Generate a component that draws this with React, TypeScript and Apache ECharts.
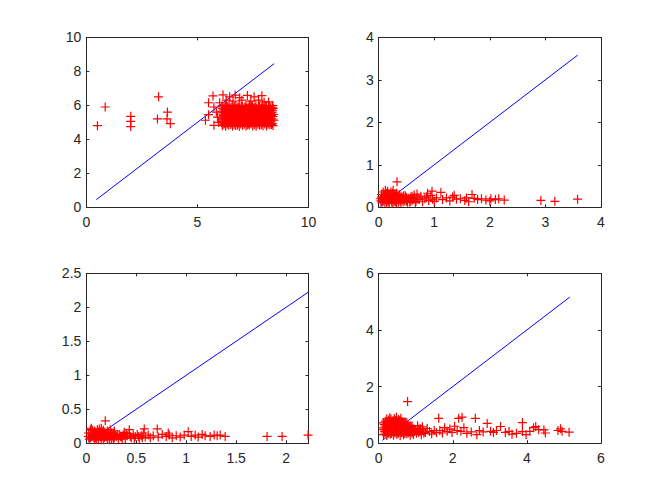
import React, { useEffect, useRef } from "react";
import * as echarts from "echarts";

// ---------- data ----------
const S1_POINTS: number[][] = [
  // isolated
  [0.5, 4.8], [0.85, 5.9], [2.0, 5.35], [2.0, 5.05], [2.0, 4.75], [3.25, 6.5], [3.2, 5.2], [3.65, 5.6], [3.63, 5.2], [3.78, 4.92],
  // left of cluster
  [5.5, 6.15], [5.74, 5.9], [5.5, 5.45], [5.36, 5.12], [5.74, 4.82], [5.9, 5.3], [5.85, 5.6], [5.95, 5.0],
  // upper sparse layer
  [5.7, 6.55], [6.15, 6.62], [6.45, 6.5], [6.7, 6.6], [6.9, 6.45], [7.25, 6.58], [7.55, 6.5], [7.9, 6.57], [8.0, 6.2],
  [6.3, 6.3], [6.6, 6.25], [7.0, 6.3], [7.4, 6.25], [7.75, 6.3], [8.2, 6.2], [6.0, 6.15],
  // dense cluster
  [6.12, 4.8], [6.27, 4.77], [6.41, 4.83], [6.58, 4.79], [6.72, 4.81], [6.88, 4.76], [7.03, 4.82], [7.19, 4.78], [7.33, 4.84], [7.49, 4.79], [7.64, 4.77], [7.8, 4.83], [7.95, 4.8], [8.11, 4.78], [8.26, 4.85], [8.4, 4.81],
  [6.08, 4.98], [6.22, 4.95], [6.37, 5.0], [6.53, 4.96], [6.68, 4.99], [6.83, 4.94], [6.99, 5.01], [7.14, 4.97], [7.29, 4.93], [7.45, 5.0], [7.6, 4.96], [7.75, 4.99], [7.91, 4.95], [8.06, 5.02], [8.21, 4.97], [8.37, 4.94],
  [6.15, 5.14], [6.3, 5.17], [6.46, 5.12], [6.61, 5.15], [6.76, 5.18], [6.92, 5.13], [7.07, 5.16], [7.22, 5.11], [7.38, 5.17], [7.53, 5.14], [7.68, 5.12], [7.84, 5.18], [7.99, 5.15], [8.14, 5.11], [8.3, 5.16], [8.44, 5.13],
  [6.1, 5.31], [6.25, 5.34], [6.4, 5.29], [6.55, 5.33], [6.71, 5.3], [6.86, 5.35], [7.01, 5.28], [7.17, 5.32], [7.32, 5.35], [7.47, 5.3], [7.63, 5.33], [7.78, 5.29], [7.93, 5.34], [8.09, 5.31], [8.24, 5.28], [8.4, 5.33],
  [6.14, 5.48], [6.29, 5.45], [6.44, 5.5], [6.6, 5.47], [6.75, 5.44], [6.9, 5.51], [7.05, 5.46], [7.21, 5.49], [7.36, 5.45], [7.51, 5.5], [7.66, 5.47], [7.82, 5.44], [7.97, 5.49], [8.12, 5.46], [8.28, 5.51], [8.43, 5.47],
  [6.09, 5.65], [6.24, 5.68], [6.39, 5.62], [6.54, 5.66], [6.7, 5.69], [6.85, 5.63], [7.0, 5.67], [7.16, 5.64], [7.31, 5.68], [7.46, 5.62], [7.62, 5.66], [7.77, 5.69], [7.92, 5.63], [8.08, 5.67], [8.23, 5.64], [8.38, 5.68],
  [6.13, 5.82], [6.28, 5.79], [6.43, 5.84], [6.59, 5.81], [6.74, 5.78], [6.89, 5.85], [7.04, 5.8], [7.2, 5.83], [7.35, 5.79], [7.5, 5.84], [7.65, 5.81], [7.81, 5.78], [7.96, 5.83], [8.11, 5.8], [8.27, 5.85], [8.41, 5.82],
  [6.11, 5.98], [6.26, 6.01], [6.42, 5.96], [6.57, 6.0], [6.73, 5.97], [6.87, 6.02], [7.02, 5.95], [7.18, 5.99], [7.34, 6.03], [7.48, 5.97], [7.63, 6.0], [7.79, 5.96], [7.94, 6.01], [8.1, 5.98], [8.25, 5.95], [8.39, 5.99],
];
const S1_EXTRA: number[][] = [
  [6.19, 4.88], [6.34, 4.9], [6.5, 4.87], [6.65, 4.89], [6.8, 4.86], [6.95, 4.9], [7.11, 4.88], [7.26, 4.86], [7.41, 4.91], [7.56, 4.87], [7.72, 4.89], [7.87, 4.86], [8.03, 4.9], [8.18, 4.88], [8.33, 4.87],
  [6.16, 5.06], [6.31, 5.04], [6.47, 5.08], [6.62, 5.05], [6.78, 5.07], [6.93, 5.03], [7.08, 5.06], [7.24, 5.08], [7.39, 5.04], [7.54, 5.07], [7.7, 5.05], [7.85, 5.08], [8.0, 5.04], [8.16, 5.06], [8.31, 5.07],
  [6.19, 5.22], [6.35, 5.24], [6.5, 5.21], [6.66, 5.23], [6.81, 5.2], [6.96, 5.25], [7.12, 5.22], [7.27, 5.2], [7.42, 5.24], [7.57, 5.21], [7.73, 5.23], [7.88, 5.2], [8.04, 5.25], [8.19, 5.22], [8.35, 5.21],
  [6.17, 5.4], [6.33, 5.38], [6.48, 5.41], [6.63, 5.39], [6.79, 5.42], [6.94, 5.37], [7.09, 5.4], [7.25, 5.42], [7.4, 5.38], [7.55, 5.41], [7.71, 5.39], [7.86, 5.42], [8.01, 5.37], [8.17, 5.4], [8.33, 5.39],
  [6.2, 5.57], [6.35, 5.55], [6.51, 5.59], [6.66, 5.56], [6.82, 5.58], [6.97, 5.54], [7.12, 5.57], [7.28, 5.59], [7.43, 5.55], [7.58, 5.58], [7.74, 5.56], [7.89, 5.59], [8.04, 5.55], [8.2, 5.57], [8.35, 5.58],
  [6.18, 5.74], [6.33, 5.72], [6.49, 5.75], [6.64, 5.73], [6.8, 5.76], [6.95, 5.71], [7.1, 5.74], [7.26, 5.76], [7.41, 5.72], [7.56, 5.75], [7.72, 5.73], [7.87, 5.76], [8.02, 5.71], [8.18, 5.74], [8.34, 5.73],
  [6.2, 5.9], [6.36, 5.92], [6.51, 5.89], [6.67, 5.91], [6.82, 5.88], [6.97, 5.93], [7.13, 5.9], [7.28, 5.88], [7.43, 5.92], [7.58, 5.89], [7.74, 5.91], [7.89, 5.88], [8.05, 5.93], [8.2, 5.9], [8.36, 5.89],
];

const S2_POINTS: number[][] = [
  [0.04, 0.15], [0.05, 0.24], [0.08, 0.19], [0.09, 0.3], [0.11, 0.12], [0.12, 0.22], [0.14, 0.33], [0.15, 0.17], [0.17, 0.27], [0.19, 0.11],
  [0.2, 0.21], [0.22, 0.36], [0.23, 0.15], [0.25, 0.26], [0.27, 0.19], [0.28, 0.31], [0.3, 0.13], [0.31, 0.23], [0.33, 0.17], [0.35, 0.28],
  [0.36, 0.12], [0.38, 0.21], [0.4, 0.16], [0.42, 0.25], [0.44, 0.13], [0.46, 0.2], [0.06, 0.11], [0.1, 0.27], [0.16, 0.38], [0.21, 0.29],
  [0.26, 0.12], [0.32, 0.33], [0.13, 0.2], [0.18, 0.16], [0.24, 0.22], [0.29, 0.25], [0.07, 0.2], [0.34, 0.2],
  [0.48, 0.27], [0.5, 0.15], [0.53, 0.21], [0.56, 0.12], [0.58, 0.24], [0.61, 0.17], [0.64, 0.29], [0.67, 0.14], [0.7, 0.22], [0.73, 0.18],
  [0.76, 0.26], [0.79, 0.13], [0.83, 0.2], [0.86, 0.24], [0.9, 0.16], [0.94, 0.28], [0.97, 0.19], [1.0, 0.14], [1.04, 0.22], [0.69, 0.31],
  [0.88, 0.33], [0.96, 0.38],
  [1.12, 0.35], [1.15, 0.18], [1.22, 0.22], [1.28, 0.15], [1.33, 0.24], [1.4, 0.19], [1.47, 0.2], [1.55, 0.16], [1.62, 0.13], [1.68, 0.3],
  [1.72, 0.21], [1.78, 0.18], [1.85, 0.2], [1.93, 0.17], [2.02, 0.2], [2.1, 0.18], [2.16, 0.2], [2.26, 0.17], [1.58, 0.22], [1.36, 0.28], [2.0, 0.15],
  [2.92, 0.16], [3.17, 0.14], [3.58, 0.19], [0.33, 0.6],
];
const S2_EXTRA: number[][] = [
  [0.03, 0.2], [0.05, 0.3], [0.08, 0.14], [0.1, 0.22], [0.12, 0.28], [0.14, 0.1], [0.15, 0.24], [0.17, 0.13], [0.19, 0.31], [0.2, 0.18],
  [0.22, 0.25], [0.24, 0.1], [0.25, 0.33], [0.27, 0.22], [0.29, 0.14], [0.3, 0.28], [0.32, 0.1], [0.34, 0.24], [0.36, 0.17], [0.38, 0.3],
  [0.4, 0.11], [0.41, 0.22], [0.43, 0.18], [0.45, 0.27], [0.47, 0.15], [0.5, 0.23], [0.52, 0.12], [0.55, 0.2], [0.58, 0.14], [0.6, 0.26],
  [0.63, 0.2], [0.66, 0.11], [0.12, 0.4], [0.26, 0.4], [0.08, 0.36],
];

const S3_POINTS: number[][] = [
  [0.02, 0.1], [0.03, 0.06], [0.04, 0.15], [0.05, 0.09], [0.06, 0.19], [0.07, 0.12], [0.08, 0.05], [0.09, 0.16], [0.1, 0.1], [0.11, 0.2],
  [0.12, 0.07], [0.13, 0.13], [0.14, 0.17], [0.15, 0.05], [0.16, 0.11], [0.17, 0.19], [0.18, 0.08], [0.19, 0.14], [0.2, 0.11], [0.21, 0.06],
  [0.22, 0.16], [0.23, 0.09], [0.24, 0.13], [0.25, 0.07], [0.26, 0.11], [0.27, 0.15], [0.28, 0.08], [0.29, 0.12], [0.3, 0.1], [0.32, 0.06],
  [0.33, 0.13], [0.04, 0.2], [0.09, 0.08], [0.13, 0.21], [0.18, 0.15], [0.07, 0.09],
  [0.35, 0.09], [0.37, 0.12], [0.39, 0.07], [0.41, 0.11], [0.43, 0.14], [0.45, 0.08], [0.47, 0.12], [0.49, 0.1], [0.51, 0.13], [0.53, 0.07],
  [0.55, 0.11], [0.57, 0.15], [0.59, 0.09], [0.62, 0.12], [0.64, 0.08], [0.43, 0.2], [0.58, 0.21], [0.38, 0.16],
  [0.67, 0.11], [0.71, 0.21], [0.72, 0.09], [0.76, 0.13], [0.8, 0.1], [0.83, 0.12], [0.86, 0.08], [0.9, 0.11], [0.94, 0.09], [0.98, 0.12],
  [1.02, 0.17], [1.05, 0.1], [1.09, 0.12], [1.12, 0.09], [1.16, 0.13], [1.19, 0.11], [1.24, 0.1], [1.28, 0.12], [1.31, 0.11], [1.34, 0.12],
  [1.39, 0.1], [1.81, 0.1], [1.96, 0.1], [2.22, 0.12], [0.19, 0.33], [0.82, 0.15],
];
const S3_EXTRA: number[][] = [
  [0.02, 0.15], [0.04, 0.08], [0.06, 0.13], [0.08, 0.18], [0.1, 0.06], [0.12, 0.15], [0.14, 0.09], [0.16, 0.16], [0.17, 0.05], [0.19, 0.1],
  [0.21, 0.18], [0.23, 0.05], [0.25, 0.15], [0.27, 0.06], [0.28, 0.18], [0.31, 0.13], [0.34, 0.1], [0.36, 0.06], [0.4, 0.14], [0.44, 0.1],
  [0.48, 0.07], [0.52, 0.1], [0.56, 0.08], [0.05, 0.22], [0.15, 0.22], [0.24, 0.2],
];

const S4_POINTS: number[][] = [
  [0.13, 0.3], [0.22, 0.27], [0.31, 0.32], [0.4, 0.28], [0.49, 0.31], [0.58, 0.26], [0.67, 0.3], [0.76, 0.33], [0.85, 0.28], [0.94, 0.31],
  [0.16, 0.42], [0.25, 0.45], [0.34, 0.4], [0.43, 0.44], [0.52, 0.41], [0.61, 0.46], [0.7, 0.4], [0.79, 0.43], [0.88, 0.45], [0.97, 0.41],
  [0.12, 0.54], [0.21, 0.51], [0.3, 0.56], [0.39, 0.53], [0.48, 0.57], [0.57, 0.52], [0.66, 0.55], [0.75, 0.5], [0.84, 0.56], [0.93, 0.53],
  [0.15, 0.66], [0.24, 0.69], [0.33, 0.64], [0.42, 0.68], [0.51, 0.63], [0.6, 0.67], [0.69, 0.7], [0.78, 0.64], [0.87, 0.62],
  [0.18, 0.78], [0.27, 0.82], [0.36, 0.76], [0.45, 0.8], [0.54, 0.84], [0.63, 0.77], [0.72, 0.75],
  [0.3, 0.9], [0.48, 0.92], [0.6, 0.88], [0.22, 0.86],
  [1.02, 0.35], [1.06, 0.5], [1.1, 0.42], [1.15, 0.3], [1.2, 0.46], [1.26, 0.38], [1.31, 0.52], [1.37, 0.41], [1.43, 0.33], [1.5, 0.45],
  [1.56, 0.38], [1.05, 0.62], [1.18, 0.58],
  [1.62, 0.88], [1.65, 0.45], [1.72, 0.36], [1.78, 0.55], [1.85, 0.42], [1.92, 0.5], [1.98, 0.38], [2.05, 0.6], [2.12, 0.45], [2.16, 0.88],
  [2.25, 0.92], [2.22, 0.42], [2.3, 0.55], [2.38, 0.35], [2.5, 0.4], [2.61, 0.88], [2.65, 0.3], [2.72, 0.45], [2.82, 0.4], [2.93, 0.7],
  [3.02, 0.42], [3.1, 0.38], [3.18, 0.45], [3.29, 0.59], [3.42, 0.38], [3.52, 0.42], [3.6, 0.32], [3.72, 0.35], [3.88, 0.73], [3.88, 0.41],
  [3.98, 0.3], [4.08, 0.42], [4.18, 0.55], [4.24, 0.59], [4.32, 0.48], [4.46, 0.47], [4.5, 0.36], [4.84, 0.45], [4.91, 0.51], [4.95, 0.42],
  [5.14, 0.39], [0.78, 1.47],
];
const S4_EXTRA: number[][] = [
  [0.17, 0.36], [0.26, 0.35], [0.35, 0.34], [0.44, 0.36], [0.53, 0.35], [0.62, 0.37], [0.71, 0.34], [0.8, 0.37], [0.9, 0.35],
  [0.14, 0.48], [0.23, 0.47], [0.32, 0.49], [0.41, 0.47], [0.5, 0.5], [0.59, 0.48], [0.68, 0.47], [0.77, 0.49], [0.86, 0.5], [0.95, 0.47],
  [0.18, 0.6], [0.27, 0.6], [0.36, 0.59], [0.45, 0.61], [0.54, 0.59], [0.63, 0.6], [0.72, 0.61], [0.81, 0.58], [0.9, 0.6],
  [0.13, 0.72], [0.22, 0.73], [0.31, 0.71], [0.4, 0.74], [0.49, 0.72], [0.58, 0.73], [0.67, 0.71], [0.76, 0.72],
  [0.33, 0.85], [0.42, 0.87], [0.55, 0.8], [1.0, 0.45], [1.08, 0.38], [1.12, 0.52], [1.22, 0.35],
];

const LINE1 = [[0.45, 0.45], [8.45, 8.45]];
const LINE2 = [[0.02, 0.02], [3.58, 3.58]];
const LINE3 = [[0.02, 0.02], [2.22, 2.22]];
const LINE4 = [[0.1, 0.1], [5.16, 5.16]];

// axis limits and tick steps per subplot
const X_MAX = [10, 4, 2.225, 6];
const X_STEP = [5, 1, 0.5, 2];
const Y_MAX = [10, 4, 2.5, 6];
const Y_STEP = [2, 1, 0.5, 2];

const POINTS = [
  [...S1_POINTS, ...S1_EXTRA],
  [...S2_POINTS, ...S2_EXTRA],
  [...S3_POINTS, ...S3_EXTRA],
  [...S4_POINTS, ...S4_EXTRA],
];
const LINES = [LINE1, LINE2, LINE3, LINE4];

// ---------- layout ----------
const W = 664;
const H = 498;
const GRID_POS = [
  { left: 0.13, top: 1 - 0.5838 - 0.3412 },
  { left: 0.5703, top: 1 - 0.5838 - 0.3412 },
  { left: 0.13, top: 1 - 0.11 - 0.3412 },
  { left: 0.5703, top: 1 - 0.11 - 0.3412 },
];
const GW = 0.3347;
const GH = 0.3412;

const AXIS_COLOR = "#262626";
const FONT = "'Liberation Sans', Arial, Helvetica, sans-serif";
const PLUS = "path://M5,0L5,10M0,5L10,5";

function fmt(step: number) {
  return (v: number) => {
    const r = v / step;
    if (Math.abs(r - Math.round(r)) > 1e-6) return "";
    return String(Math.round(v * 1000) / 1000);
  };
}

export default function App() {
  const ref = useRef<HTMLDivElement>(null);
  useEffect(() => {
    if (!ref.current) return;
    const chart = echarts.init(ref.current, null, { renderer: "svg" });
    const grid: any[] = [];
    const xAxis: any[] = [];
    const yAxis: any[] = [];
    const series: any[] = [];
    const lineStyle = { color: AXIS_COLOR, width: 1 };
    for (let i = 0; i < 4; i++) {
      grid.push({
        left: GRID_POS[i].left * W,
        top: GRID_POS[i].top * H,
        width: GW * W,
        height: GH * H,
        containLabel: false,
        outerBoundsMode: "none",
      });
      const baseX = {
        type: "value",
        gridIndex: i,
        min: 0,
        max: X_MAX[i],
        interval: X_STEP[i],
        splitLine: { show: false },
        axisLine: { show: true, onZero: false, lineStyle },
        axisTick: { show: true, inside: true, length: 3, lineStyle },
      };
      xAxis.push({
        ...baseX,
        position: "bottom",
        axisLabel: {
          show: true,
          color: AXIS_COLOR,
          fontSize: 14,
          fontFamily: FONT,
          margin: 8,
          formatter: fmt(X_STEP[i]),
        },
      });
      xAxis.push({ ...baseX, position: "top", axisLabel: { show: false } });
      const baseY = {
        type: "value",
        gridIndex: i,
        min: 0,
        max: Y_MAX[i],
        interval: Y_STEP[i],
        splitLine: { show: false },
        axisLine: { show: true, onZero: false, lineStyle },
        axisTick: { show: true, inside: true, length: 3, lineStyle },
      };
      yAxis.push({
        ...baseY,
        position: "left",
        axisLabel: {
          show: true,
          color: AXIS_COLOR,
          fontSize: 14,
          fontFamily: FONT,
          margin: 5,
          formatter: fmt(Y_STEP[i]),
        },
      });
      yAxis.push({ ...baseY, position: "right", axisLabel: { show: false } });

      series.push({
        type: "line",
        xAxisIndex: i * 2,
        yAxisIndex: i * 2,
        data: LINES[i],
        symbol: "none",
        lineStyle: { color: "#0000ff", width: 1 },
        z: 2,
        silent: true,
      });
      series.push({
        type: "scatter",
        xAxisIndex: i * 2,
        yAxisIndex: i * 2,
        data: POINTS[i],
        symbol: PLUS,
        symbolSize: 9,
        itemStyle: { color: "none", borderColor: "#ff0000", borderWidth: 1.2, opacity: 1 },
        z: 3,
        silent: true,
      });
    }
    chart.setOption({
      animation: false,
      backgroundColor: "#ffffff",
      grid,
      xAxis,
      yAxis,
      series,
    });
    return () => chart.dispose();
  }, []);
  return (
    <div
      ref={ref}
      style={{ position: "fixed", left: 0, top: 0, width: W, height: H, background: "#fff" }}
    />
  );
}
